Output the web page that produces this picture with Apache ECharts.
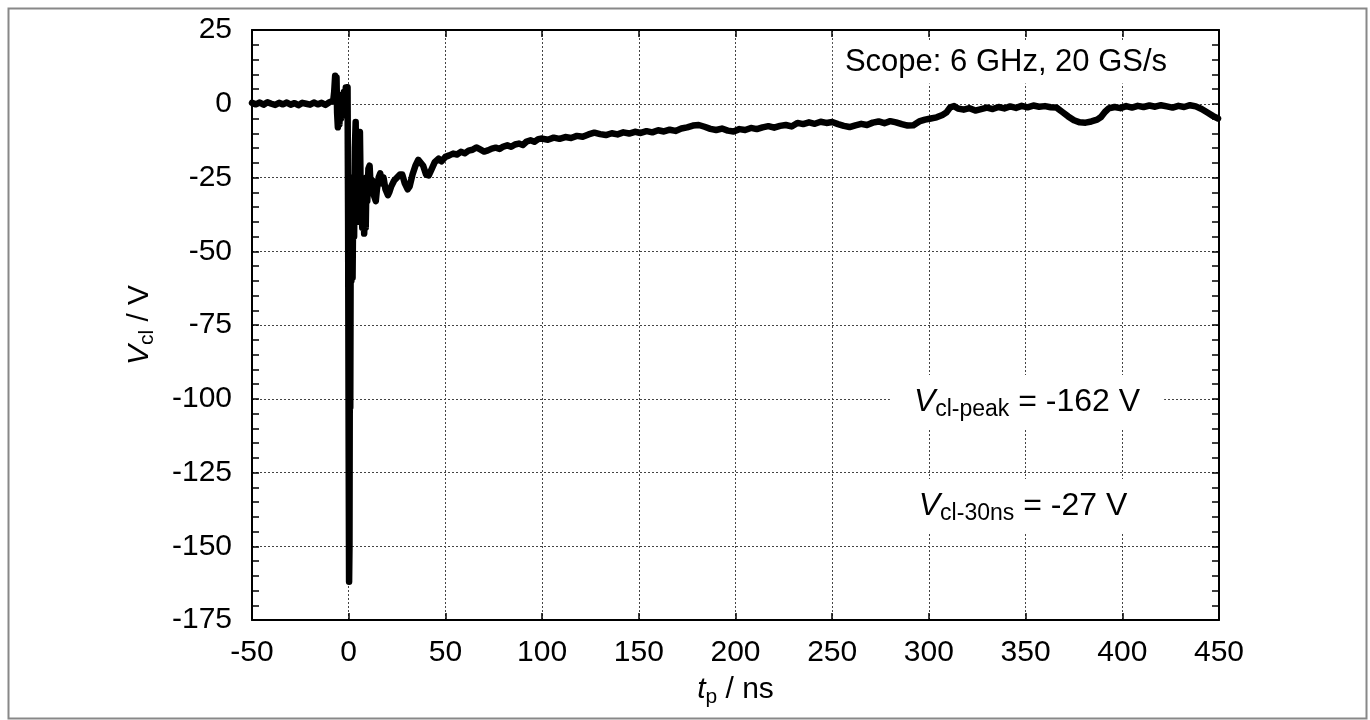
<!DOCTYPE html>
<html>
<head>
<meta charset="utf-8">
<script src="https://cdn.jsdelivr.net/npm/echarts@6/dist/echarts.min.js"></script>
<style>
html,body{margin:0;padding:0;background:#fff;}
#chart{width:1370px;height:720px;}
</style>
</head>
<body>
<div id="chart"></div>
<script>
// Time axis (ns) and clamp voltage (V)
const tNs = [
-50,-48,-46,-44,-42,-40,-38,-36,-34,-32,-30,-28,-26,-24,-22,-20,-18,-16,-14,-12,-10,-9,-8,
-7.5,-7,-6.6,-6.3,-6,-5.6,-5.2,-4.8,-4.4,-4,-3.5,-3,-2.5,-2,-1.5,-1,-0.6,-0.3,
0,0.2,0.4,0.6,0.8,1.1,1.4,1.7,2.0,2.4,2.8,3.2,3.6,4.0,4.5,5.0,5.5,5.8,6.2,6.6,7.0,7.5,8.0,8.4,8.8,9.2,9.6,
10.2,10.8,11.5,12.2,13,14,14.6,15.5,16.3,17.2,18,19,20.3,21,22,23.5,25,26.5,27.7,29,30.5,31.5,33,34.5,36,37,38.5,40,41.4,43,44.5,46.5,48,
50,52,54,56,58,60,62,64,66,68,70,72,74,76,78,80,82,84,86,88,90,92,94,96,98,
100,103,106,109,112,115,118,121,124,127,130,133,136,139,142,145,148,151,154,157,160,163,166,169,172,175,178,181,184,187,190,193,196,199,
202,205,208,211,214,217,220,223,226,229,232,235,238,241,244,247,250,253,256,259,262,265,268,271,274,277,280,283,286,289,292,295,298,
301,304,307,309,311,313,315,318,321,324,327,330,333,336,339,342,345,348,351,354,357,360,363,366,369,372,375,378,381,384,387,389,391,393,396,399,
402,405,408,411,414,417,420,423,426,429,432,435,438,441,444,447,449.5
];
const vcl = [
0.3,-0.2,0.4,-0.3,0.5,0.0,-0.4,0.3,-0.2,0.4,-0.3,0.2,-0.5,0.3,0.0,-0.3,0.4,-0.2,0.3,-0.4,0.5,0.0,1.0,
4.0,9.5,7.0,9.0,-3.0,-8.0,3.0,-7.0,2.0,-5.0,3.0,-4.0,4.0,-2.0,5.5,3.0,5.6,-40,
-120,-162,-150,-80,-103,-30,-60,-25,-59,-28,-45,-15,-6.2,-35,-20,-40,-12,-9.6,-30,-25,-42,-30,-44,-35,-42,-25,-33,
-22,-21,-30,-26,-31,-33,-29,-25,-23.6,-27,-25,-29,-31,-30,-28,-26,-25,-24,-24,-27,-29,-28,-24,-21,-19,-18.5,-21,-24,-24.3,-22,-19.8,-18.6,-19.5,
-18,-17.5,-16.9,-17.2,-16.3,-16.8,-15.9,-15.6,-14.8,-15.5,-16.2,-15.8,-15.2,-14.9,-15.3,-14.5,-14.1,-14.6,-13.8,-13.5,-14.0,-12.8,-12.4,-12.9,-12.0,
-11.8,-12.2,-11.5,-11.9,-11.3,-11.6,-10.9,-11.2,-10.4,-9.8,-10.3,-10.6,-10.0,-10.4,-9.7,-10.1,-9.5,-9.9,-9.3,-9.7,-9.0,-9.4,-8.8,-9.2,-8.4,-8.0,-7.4,-7.2,-7.8,-8.5,-8.9,-8.4,-9.1,-9.4,
-8.6,-8.9,-8.2,-8.6,-8.0,-7.6,-8.1,-7.5,-7.2,-7.7,-6.5,-6.9,-6.3,-6.8,-6.1,-6.5,-6.2,-6.9,-7.5,-7.9,-7.3,-6.8,-7.2,-6.4,-6.0,-6.6,-5.9,-6.3,-6.9,-7.4,-7.3,-6.0,-5.4,
-5.0,-4.6,-3.8,-3.0,-1.2,-0.8,-1.6,-2.0,-1.5,-2.3,-1.8,-1.3,-1.8,-1.1,-1.6,-0.9,-1.4,-0.7,-1.2,-0.6,-1.0,-0.8,-1.2,-1.3,-2.8,-4.3,-5.6,-6.3,-6.4,-6.0,-5.4,-4.5,-2.8,-1.6,-1.1,-1.5,
-0.8,-1.3,-0.7,-1.1,-0.6,-1.0,-0.5,-0.9,-1.3,-0.7,-1.1,-0.5,-0.9,-1.8,-3.0,-4.2,-5.0
];
const xTicks = {min: -50, max: 450, step: 50};
const yTicks = {min: -175, max: 25, step: 25};
const scopeNote = 'Scope: 6 GHz, 20 GS/s';
const peakNote = ['cl-peak', ' = -162 V'];
const n30Note = ['cl-30ns', ' = -27 V'];

const FONT = '"Liberation Sans", Arial, Helvetica, sans-serif';
const seriesData = tNs.map((t, i) => [t, vcl[i]]);

const chart = echarts.init(document.getElementById('chart'), null, {renderer: 'canvas'});

function richSet(big, small, lh, slh) {
  return {
    i: {fontStyle: 'italic', fontSize: big, fontFamily: FONT, color: '#000', lineHeight: lh, verticalAlign: 'middle'},
    s: {fontSize: small, fontFamily: FONT, color: '#000', lineHeight: slh, verticalAlign: 'bottom'},
    n: {fontSize: big, fontFamily: FONT, color: '#000', lineHeight: lh, verticalAlign: 'middle'}
  };
}
const axisRich = richSet(30, 21, 36, 16);
const noteRich = richSet(32, 23, 38, 16);

const gridLine = {show: true, lineStyle: {color: '#444', width: 1, type: [2, 2]}};
const axLine = {show: true, onZero: false, lineStyle: {color: '#000', width: 2}};
const tick = {show: true, inside: true, length: 7, lineStyle: {color: '#000', width: 1.5}};
const minor = {show: true, splitNumber: 5, length: 7, lineStyle: {color: '#000', width: 1.5}};

const option = {
  animation: false,
  backgroundColor: '#fff',
  grid: {left: 252, top: 30, width: 967, height: 590, containLabel: false, outerBoundsMode: 'none'},
  xAxis: [{
    type: 'value', min: xTicks.min, max: xTicks.max, interval: xTicks.step, position: 'bottom',
    axisLine: axLine, axisTick: tick,
    axisLabel: {color: '#000', fontSize: 30, fontFamily: FONT, margin: 18},
    splitLine: gridLine,
    name: '{i|t}{s|p}{n| / ns}', nameLocation: 'middle', nameGap: 52,
    nameTextStyle: {rich: axisRich, fontSize: 30, fontFamily: FONT, color: '#000'}
  }, {
    type: 'value', min: xTicks.min, max: xTicks.max, interval: xTicks.step, position: 'top',
    axisLine: axLine, axisTick: tick,
    axisLabel: {show: false}, splitLine: {show: false}
  }],
  yAxis: [{
    type: 'value', min: yTicks.min, max: yTicks.max, interval: yTicks.step, position: 'left',
    axisLine: axLine, axisTick: tick, minorTick: minor,
    axisLabel: {color: '#000', fontSize: 30, fontFamily: FONT, margin: 20},
    splitLine: gridLine,
    name: '{i|V}{s|cl}{n| / V}', nameLocation: 'middle', nameGap: 94, nameRotate: 90,
    nameTextStyle: {rich: axisRich, fontSize: 30, fontFamily: FONT, color: '#000'}
  }, {
    type: 'value', min: yTicks.min, max: yTicks.max, interval: yTicks.step, position: 'right',
    axisLine: axLine, axisTick: tick, minorTick: minor,
    axisLabel: {show: false}, splitLine: {show: false}
  }],
  series: [{
    type: 'line', xAxisIndex: 0, yAxisIndex: 0, data: seriesData,
    showSymbol: false, symbol: 'none', smooth: false,
    lineStyle: {color: '#000', width: 6.5, join: 'round', cap: 'round'},
    z: 3
  }],
  graphic: [
    {type: 'rect', left: 6, top: 6, shape: {x: 0, y: 0, width: 1358, height: 710},
     style: {fill: 'none', stroke: '#888', lineWidth: 2}, silent: true, z: 0},
    {type: 'text', x: 1006, y: 62, z: 10,
     style: {text: scopeNote, font: '31px ' + FONT, fill: '#000', align: 'center', verticalAlign: 'middle',
             backgroundColor: '#fff', padding: [6, 12, 6, 12]}},
    {type: 'text', x: 1027, y: 402, z: 10,
     style: {text: '{i|V}{s|' + peakNote[0] + '}{n|' + peakNote[1] + '}', rich: noteRich,
             align: 'center', verticalAlign: 'middle', backgroundColor: '#fff', padding: [8, 24, 8, 24]}},
    {type: 'text', x: 1023, y: 506, z: 10,
     style: {text: '{i|V}{s|' + n30Note[0] + '}{n|' + n30Note[1] + '}', rich: noteRich,
             align: 'center', verticalAlign: 'middle', backgroundColor: '#fff', padding: [8, 24, 8, 24]}}
  ]
};
chart.setOption(option);
</script>
</body>
</html>
